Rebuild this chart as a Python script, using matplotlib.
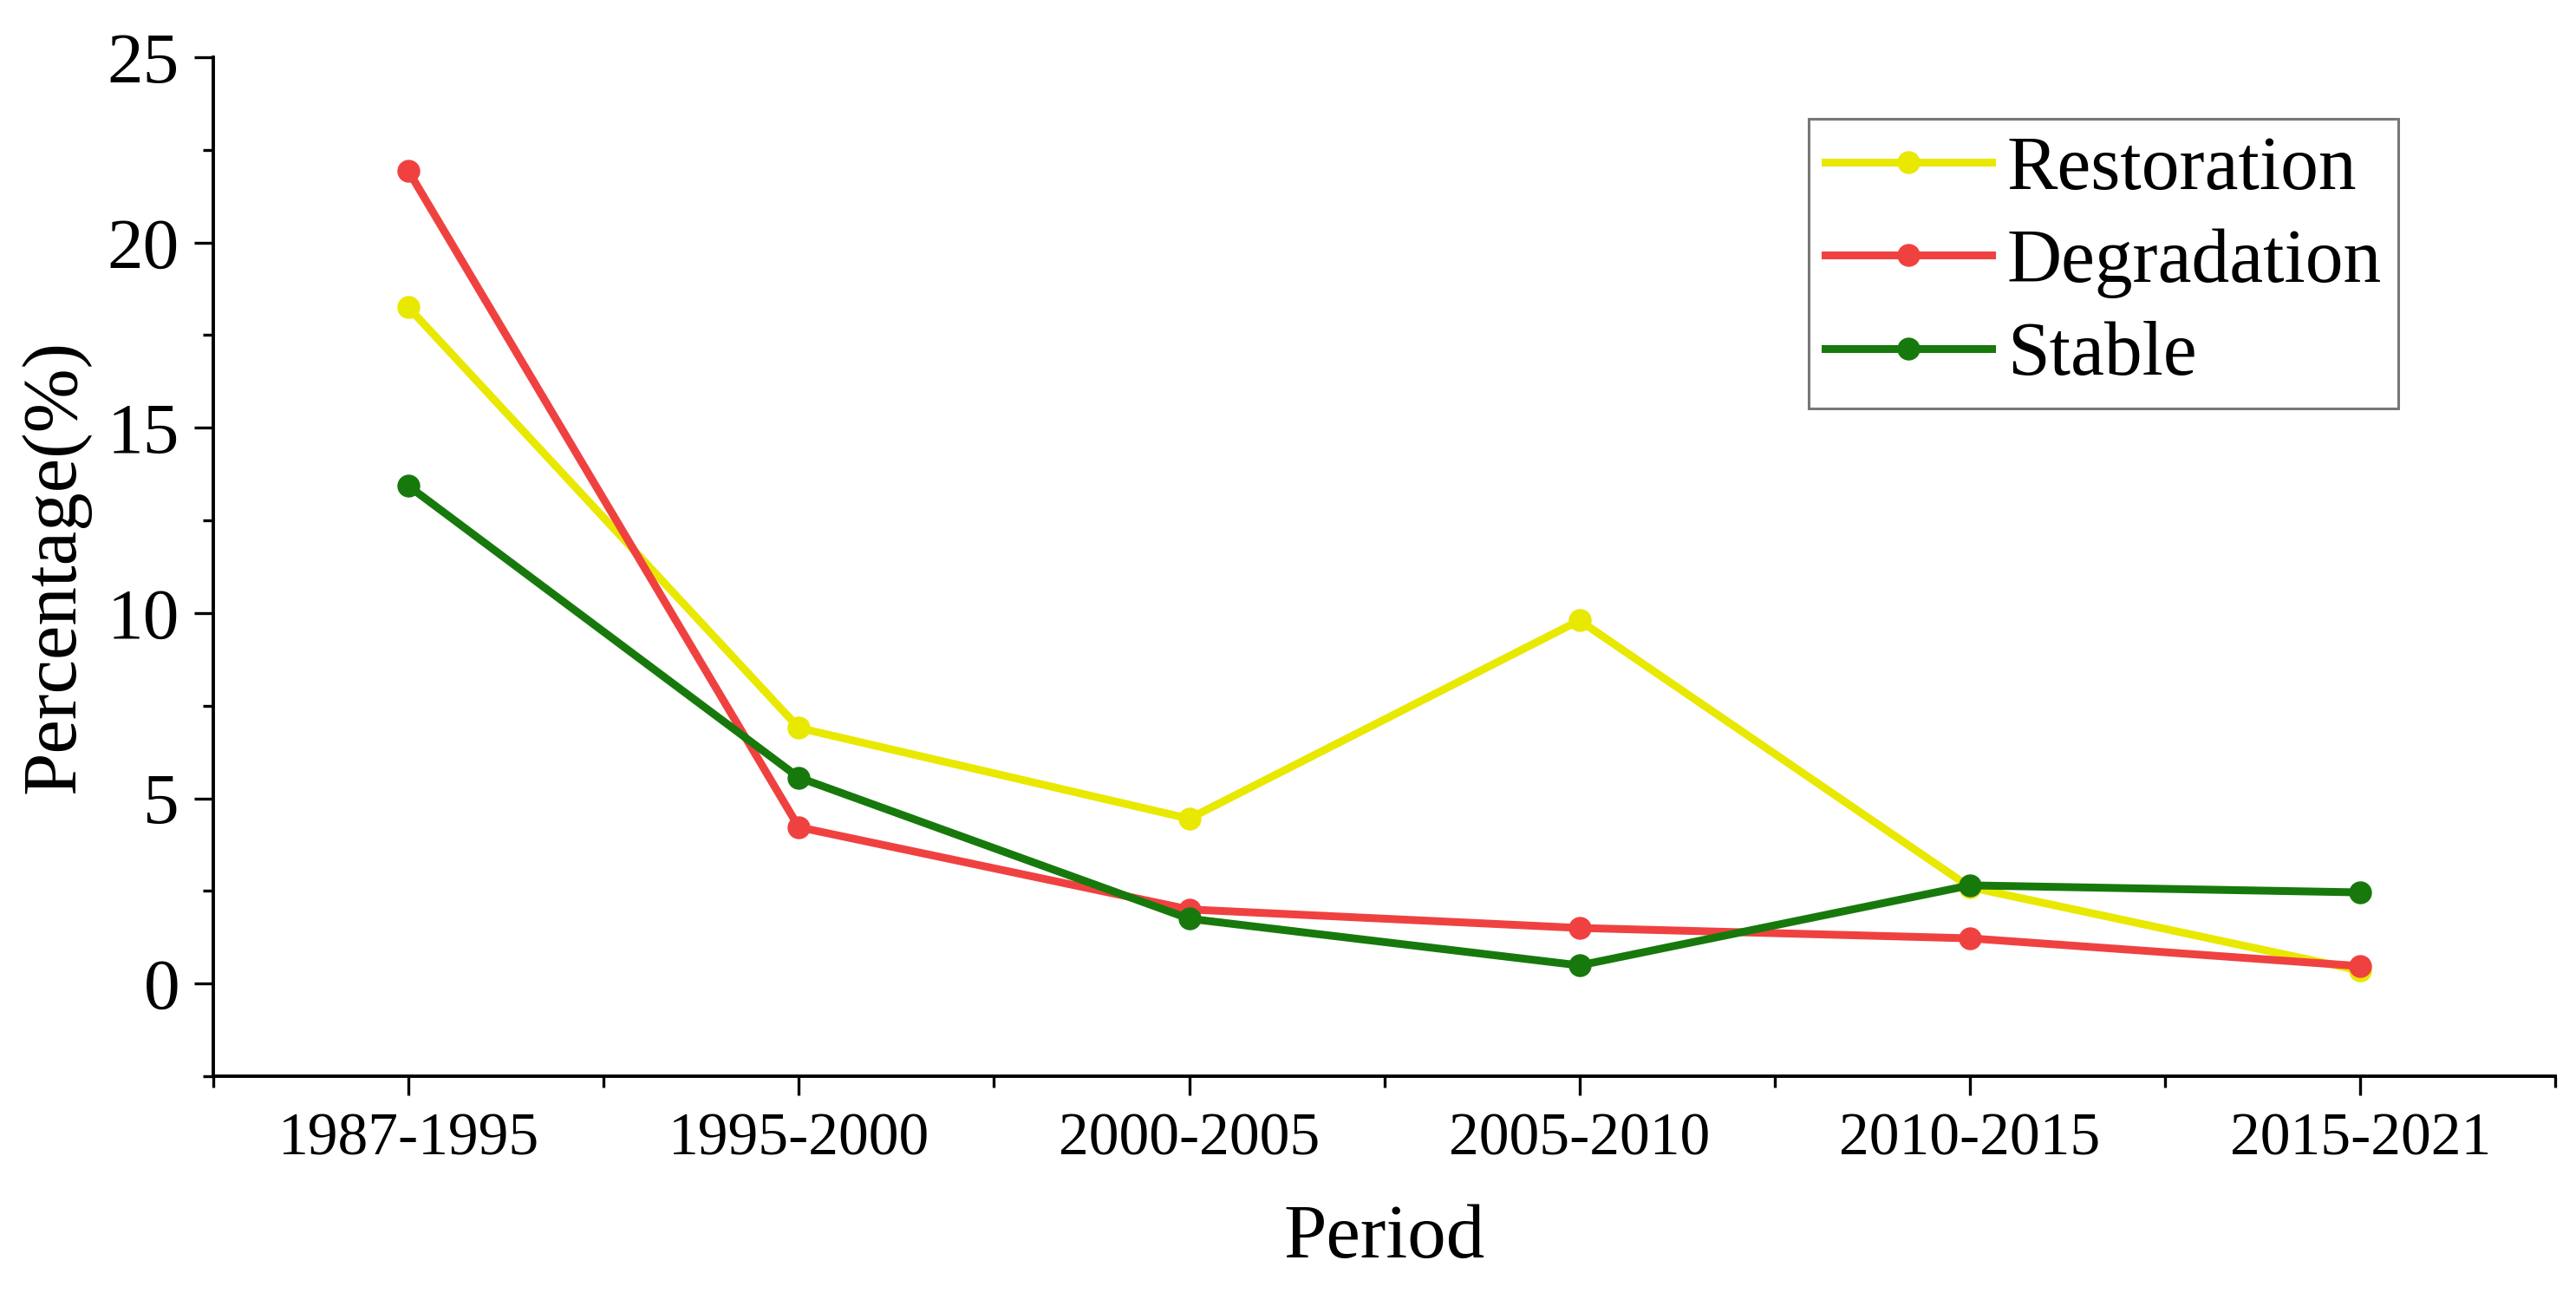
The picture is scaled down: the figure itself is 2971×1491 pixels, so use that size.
import matplotlib
matplotlib.use("Agg")
import matplotlib.pyplot as plt
from matplotlib.ticker import MultipleLocator

# Daten
periods = ["1987-1995", "1995-2000", "2000-2005", "2005-2010", "2010-2015", "2015-2021"]
restoration = [18.25, 6.9, 4.45, 9.8, 2.6, 0.35]
degradation = [21.93, 4.22, 2.0, 1.5, 1.22, 0.47]
stable = [13.43, 5.56, 1.75, 0.49, 2.65, 2.46]

series_names = ["Restoration", "Degradation", "Stable"]
colors = ["#E8E800", "#F04141", "#17790C"]

plt.rcParams["font.family"] = ["Liberation Serif", "DejaVu Serif"]

fig = plt.figure(figsize=(29.71, 14.91), dpi=100)
ax = fig.add_axes([0.0828, 0.1677, 0.9092, 0.788])

x = list(range(len(periods)))
for vals, name, col in zip([restoration, degradation, stable], series_names, colors):
    ax.plot(x, vals, color=col, lw=6.5, marker="o", ms=18, label=name)

ax.set_xlim(-0.5, len(periods) - 0.5)
ax.set_ylim(-2.5, 25)
ax.set_xticks(x)
ax.set_xticklabels(periods)
ax.xaxis.set_minor_locator(MultipleLocator(0.5))
ax.yaxis.set_major_locator(MultipleLocator(5))
ax.yaxis.set_minor_locator(MultipleLocator(2.5))

for s in ["top", "right"]:
    ax.spines[s].set_visible(False)
for s in ["left", "bottom"]:
    ax.spines[s].set_linewidth(2.8)

ax.tick_params(axis="both", which="major", direction="out", length=16, width=2.4)
ax.tick_params(axis="both", which="minor", direction="out", length=9, width=2.4)
ax.tick_params(axis="y", which="major", labelsize=60, pad=12)
ax.tick_params(axis="x", which="major", labelsize=50, pad=14)

ax.set_xlabel("Period", fontsize=64, labelpad=30)
ax.set_ylabel("Percentage(%)", fontsize=64, labelpad=14)

leg = ax.legend(loc="upper left", bbox_to_anchor=(0.681, 0.94), fontsize=63,
                frameon=True, fancybox=False, borderpad=0.22, labelspacing=0.3,
                handlelength=2.2, handletextpad=0.2, borderaxespad=0)
leg.get_frame().set_edgecolor("#555555")
leg.get_frame().set_linewidth(2.2)

fig.savefig("out.png", dpi=100)
